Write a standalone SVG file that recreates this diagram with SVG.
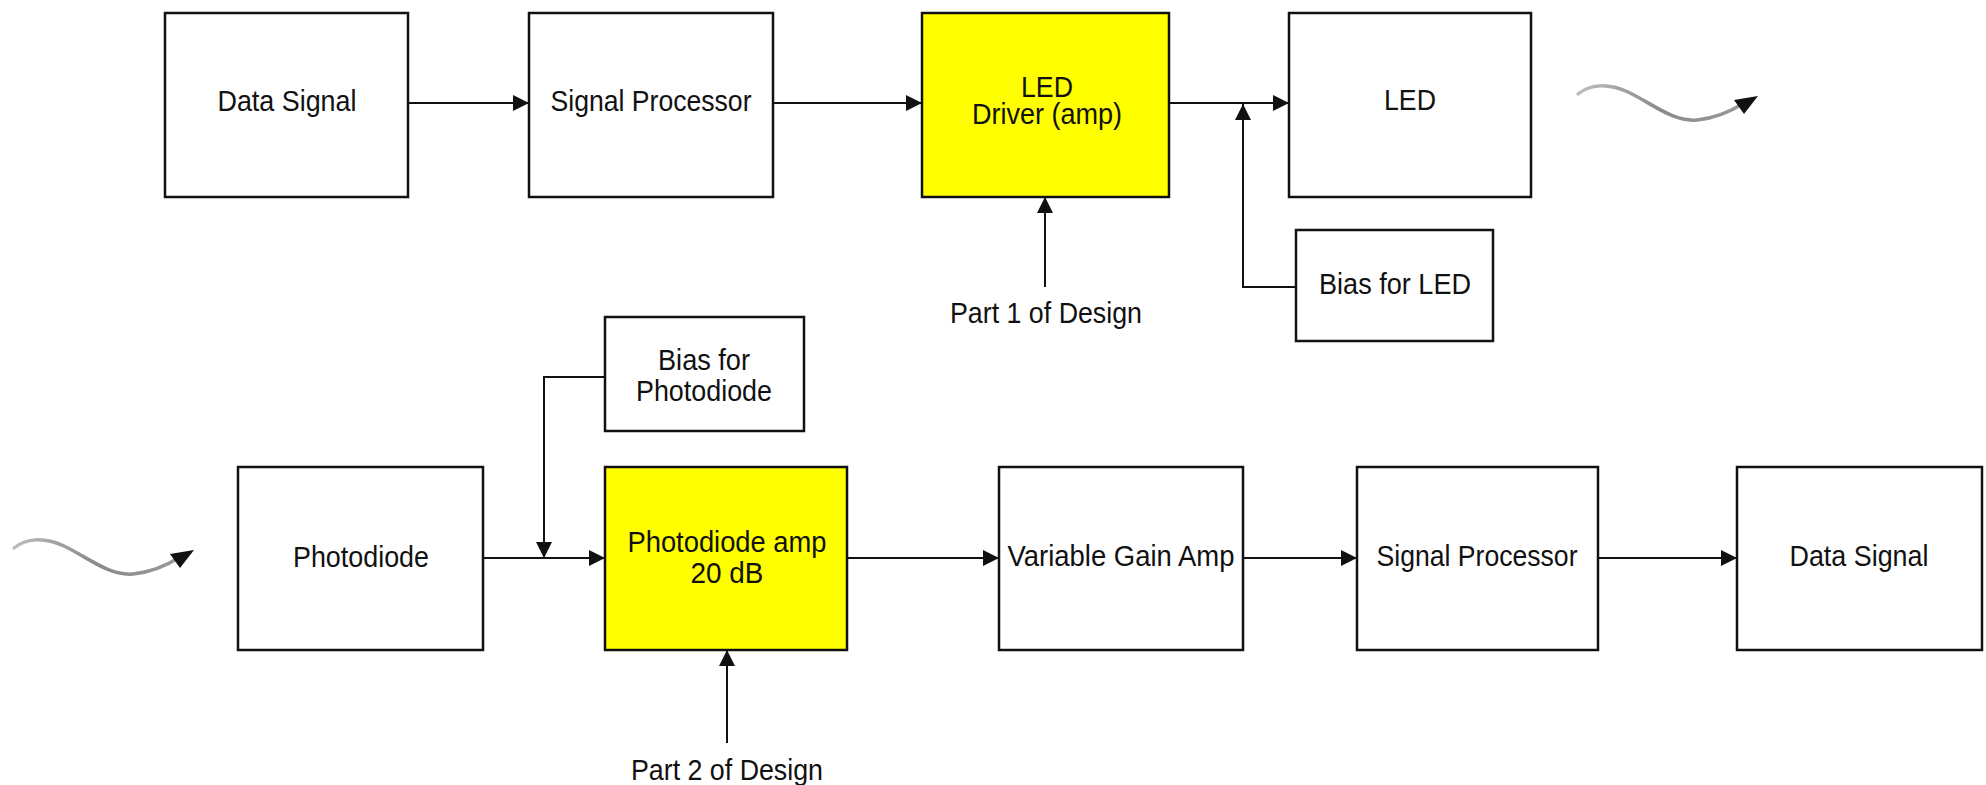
<svg xmlns="http://www.w3.org/2000/svg" width="1986" height="785" viewBox="0 0 1986 785">
<style>
.box{fill:#ffffff;stroke:#111;stroke-width:2.5}
.hl{fill:#ffff00;stroke:#111;stroke-width:2.5}
.lbl{font-family:"Liberation Sans",Arial,sans-serif;font-size:30px;fill:#111;text-anchor:middle}
.ln{fill:none;stroke:#111;stroke-width:2}
.wave{fill:none;stroke:#9a9a9a;stroke-width:3.5;stroke-linecap:round}
</style>
<defs>
<marker id="ah" markerUnits="userSpaceOnUse" markerWidth="16" markerHeight="16" refX="16" refY="8" orient="auto">
<path d="M0,0 L16,8 L0,16 z" fill="#111"/>
</marker>
<linearGradient id="wg" x1="0" y1="0" x2="1" y2="0">
<stop offset="0" stop-color="#bdbdbd"/>
<stop offset="0.5" stop-color="#8a8a8a"/>
<stop offset="1" stop-color="#9a9a9a"/>
</linearGradient>
<g id="wavesym">
<path d="M0,0 C12,-10 30,-11 50,-2 C75,10 95,28 119,26 C140,24 155,16 166,9" fill="none" stroke="url(#wg)" stroke-width="3.5" stroke-linecap="round"/>
<polygon points="180,2 156,6 166,20" fill="#111"/>
</g>
</defs>
<rect width="1986" height="785" fill="#ffffff"/>

<g id="connectors">
<line class="ln" x1="408" y1="103" x2="529" y2="103" marker-end="url(#ah)"/>
<line class="ln" x1="773" y1="103" x2="922" y2="103" marker-end="url(#ah)"/>
<line class="ln" x1="1169" y1="103" x2="1289" y2="103" marker-end="url(#ah)"/>
<polyline class="ln" points="1296,287 1243,287 1243,104" marker-end="url(#ah)"/>
<line class="ln" x1="1045" y1="287" x2="1045" y2="197" marker-end="url(#ah)"/>
<line class="ln" x1="483" y1="558" x2="605" y2="558" marker-end="url(#ah)"/>
<polyline class="ln" points="605,377 544,377 544,558" marker-end="url(#ah)"/>
<line class="ln" x1="727" y1="743" x2="727" y2="650" marker-end="url(#ah)"/>
<line class="ln" x1="847" y1="558" x2="999" y2="558" marker-end="url(#ah)"/>
<line class="ln" x1="1243" y1="558" x2="1357" y2="558" marker-end="url(#ah)"/>
<line class="ln" x1="1598" y1="558" x2="1737" y2="558" marker-end="url(#ah)"/>
</g>

<g id="wave-tx"><use href="#wavesym" transform="translate(1578,94)"/></g>
<g id="wave-rx"><use href="#wavesym" transform="translate(14,548)"/></g>

<g id="data-signal-tx">
<rect class="box" x="165" y="13" width="243" height="184"/>
<text class="lbl" x="287" y="111" textLength="139" lengthAdjust="spacingAndGlyphs">Data Signal</text>
</g>
<g id="signal-processor-tx">
<rect class="box" x="529" y="13" width="244" height="184"/>
<text class="lbl" x="651" y="111" textLength="201" lengthAdjust="spacingAndGlyphs">Signal Processor</text>
</g>
<g id="led-driver">
<rect class="hl" x="922" y="13" width="247" height="184"/>
<text class="lbl" x="1047" y="97" textLength="52" lengthAdjust="spacingAndGlyphs">LED</text>
<text class="lbl" x="1047" y="124" textLength="150" lengthAdjust="spacingAndGlyphs">Driver (amp)</text>
</g>
<g id="led">
<rect class="box" x="1289" y="13" width="242" height="184"/>
<text class="lbl" x="1410" y="110" textLength="52" lengthAdjust="spacingAndGlyphs">LED</text>
</g>
<g id="bias-led">
<rect class="box" x="1296" y="230" width="197" height="111"/>
<text class="lbl" x="1395" y="294" textLength="152" lengthAdjust="spacingAndGlyphs">Bias for LED</text>
</g>
<g id="part1">
<text class="lbl" x="1046" y="323" textLength="192" lengthAdjust="spacingAndGlyphs">Part 1 of Design</text>
</g>

<g id="bias-photodiode">
<rect class="box" x="605" y="317" width="199" height="114"/>
<text class="lbl" x="704" y="370" textLength="92" lengthAdjust="spacingAndGlyphs">Bias for</text>
<text class="lbl" x="704" y="401" textLength="136" lengthAdjust="spacingAndGlyphs">Photodiode</text>
</g>
<g id="photodiode">
<rect class="box" x="238" y="467" width="245" height="183"/>
<text class="lbl" x="361" y="567" textLength="136" lengthAdjust="spacingAndGlyphs">Photodiode</text>
</g>
<g id="photodiode-amp">
<rect class="hl" x="605" y="467" width="242" height="183"/>
<text class="lbl" x="727" y="552" textLength="199" lengthAdjust="spacingAndGlyphs">Photodiode amp</text>
<text class="lbl" x="727" y="583" textLength="73" lengthAdjust="spacingAndGlyphs">20 dB</text>
</g>
<g id="part2">
<text class="lbl" x="727" y="780" textLength="192" lengthAdjust="spacingAndGlyphs">Part 2 of Design</text>
</g>
<g id="vga">
<rect class="box" x="999" y="467" width="244" height="183"/>
<text class="lbl" x="1121" y="566" textLength="227" lengthAdjust="spacingAndGlyphs">Variable Gain Amp</text>
</g>
<g id="signal-processor-rx">
<rect class="box" x="1357" y="467" width="241" height="183"/>
<text class="lbl" x="1477" y="566" textLength="201" lengthAdjust="spacingAndGlyphs">Signal Processor</text>
</g>
<g id="data-signal-rx">
<rect class="box" x="1737" y="467" width="245" height="183"/>
<text class="lbl" x="1859" y="566" textLength="139" lengthAdjust="spacingAndGlyphs">Data Signal</text>
</g>
</svg>
